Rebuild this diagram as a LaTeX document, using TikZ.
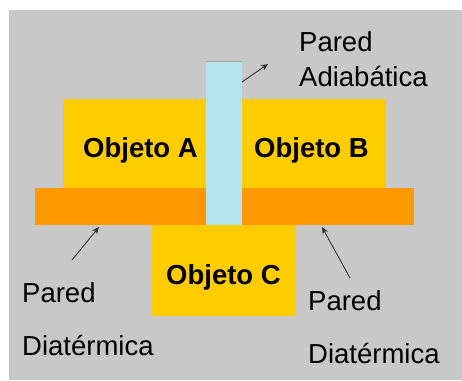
\documentclass[tikz,border=0pt]{standalone}
\usepackage{fontspec}
\setmainfont{Liberation Sans}
\usetikzlibrary{arrows.meta}
\definecolor{bggray}{HTML}{C8C8C8}
\definecolor{objyellow}{HTML}{FFCC00}
\definecolor{wallorange}{HTML}{FF9900}
\definecolor{walblue}{HTML}{B5E3F0}
\definecolor{arrowgray}{HTML}{303030}
\begin{document}
\begin{tikzpicture}[x=1pt,y=1pt,
  block/.style={rectangle, inner sep=0pt, outer sep=0pt, draw=none},
  objlabel/.style={anchor=base west, inner sep=0pt, font=\fontsize{27.5}{30}\selectfont\bfseries},
  walllabel/.style={anchor=base west, inner sep=0pt, font=\fontsize{27.5}{30}\selectfont},
  pointer/.style={draw=arrowgray, line width=0.9pt, -{Stealth[length=7pt,width=6pt]}}]
  \useasboundingbox (0,0) rectangle (462,380);
  % background panel
  \fill[bggray] (9,0) rectangle (462,370);
  % objects A and B
  \node[block, fill=objyellow, minimum width=143pt, minimum height=89pt] (objA) at (134.5,236.5) {};
  \node[block, fill=objyellow, minimum width=144pt, minimum height=89pt] (objB) at (314,236.5) {};
  % diathermic bar
  \node[block, fill=wallorange, minimum width=379pt, minimum height=37pt] (bar) at (224.5,173.5) {};
  % object C
  \node[block, fill=objyellow, minimum width=144pt, minimum height=91pt] (objC) at (224,109.5) {};
  % adiabatic wall
  \node[block, fill=walblue, minimum width=36pt, minimum height=164pt] (wall) at (224,237) {};
  \draw[gray!70, line width=0.8pt] (wall.north west) -- (wall.north east);
  % labels
  \node[objlabel] (tA) at (83,222) {Objeto A};
  \node[objlabel] (tB) at (254,222) {Objeto B};
  \node[objlabel] (tC) at (166,96) {Objeto C};
  \node[walllabel] (adi1) at (299,328) {Pared};
  \node[walllabel] (adi2) at (299,293) {Adiabática};
  \node[walllabel] (dl1) at (22,78) {Pared};
  \node[walllabel] (dl2) at (22,25) {Diatérmica};
  \node[walllabel] (dr1) at (308,70) {Pared};
  \node[walllabel] (dr2) at (308,17) {Diatérmica};
  % pointers
  \coordinate (pa0) at (242,298);
  \coordinate (pa1) at (268,316);
  \coordinate (pl0) at (72,120);
  \coordinate (pl1) at (99,153);
  \coordinate (pr0) at (350,102);
  \coordinate (pr1) at (322,153);
  \draw[pointer] (pa0) -- (pa1);
  \draw[pointer] (pl0) -- (pl1);
  \draw[pointer] (pr0) -- (pr1);
\end{tikzpicture}
\end{document}
